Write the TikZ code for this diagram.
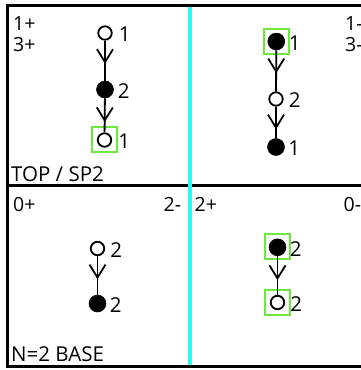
\documentclass[tikz,border=0pt]{standalone}
\usepackage{fontspec}
\setmainfont{Open Sans}
\usetikzlibrary{arrows.meta,decorations.markings}
\definecolor{gbox}{RGB}{110,232,60}
\definecolor{cyanline}{RGB}{40,250,250}
\tikzset{
  opn/.style={circle, draw=black, line width=1.8pt, fill=white, minimum size=13.5pt, inner sep=0pt},
  fil/.style={circle, fill=black, draw=black, line width=0.5pt, minimum size=17pt, inner sep=0pt},
  hl/.style={draw=gbox, line width=2pt, minimum size=25pt, inner sep=0pt},
  lab/.style={font=\fontsize{20.5}{20.5}\selectfont, inner sep=0pt},
  corner/.style={font=\fontsize{19.5}{19.5}\selectfont, inner sep=0pt, anchor=base west},
  panel/.style={font=\fontsize{20.5}{20.5}\selectfont, inner sep=0pt, anchor=base west},
  frame/.style={line width=3pt, black},
  edge/.style={line width=1.8pt, postaction={decorate, decoration={markings,
     mark=at position #1 with {\arrow{Straight Barb[length=13pt,width=16pt,line width=1.8pt]}}}}}
}
\begin{document}
\begin{tikzpicture}[x=1pt,y=-1pt]
\useasboundingbox (0,0) rectangle (361,370);
% frame
\draw[frame] (7,5.5) -- (361,5.5);
\draw[frame] (7,185) -- (361,185);
\draw[frame] (7,366.5) -- (361,366.5);
\draw[frame] (7.5,4) -- (7.5,368);
\draw[line width=4pt, cyanline] (190,7) -- (190,365);
% corner texts
\node[corner] (tl1) at (13,30) {1+};
\node[corner] (tl2) at (13,51) {3+};
\node[corner] (tr1) at (345,30) {1-};
\node[corner] (tr2) at (345,51) {3-};
\node[corner] (bl1) at (13,211) {0+};
\node[corner] (bl2) at (163.5,211) {2-};
\node[corner] (br1) at (194.5,211) {2+};
\node[corner] (br2) at (343.5,211) {0-};
\node[panel] (p1) at (11,181.5) {TOP / SP2};
\node[panel] (p2) at (11,361.5) {N=2 BASE};
% highlight boxes
\node[hl] (g1) at (104.5,139.5) {};
\node[hl] (g2) at (276,41) {};
\node[hl] (g3) at (277.3,246.7) {};
\node[hl] (g4) at (277.3,302.3) {};
% top-left
\node[opn, label={[lab, label distance=6pt, yshift=-1.5pt]east:1}] (a1) at (105,33) {};
\node[fil, label={[lab, label distance=4pt, yshift=-1.5pt]east:2}] (a2) at (105,89.5) {};
\node[opn, label={[lab, label distance=6pt, yshift=-1.5pt]east:1}] (a3) at (104.5,140) {};
\draw[edge=0.58] (a1) -- (a2);
\draw[edge=0.7] (a2) -- (a3);
% top-right
\node[fil, label={[lab, label distance=3.5pt, yshift=-1.5pt]east:1}] (b1) at (276.3,41.5) {};
\node[opn, label={[lab, label distance=5pt, yshift=-1.5pt]east:2}] (b2) at (276,99) {};
\node[fil, label={[lab, label distance=3.5pt, yshift=-1.5pt]east:1}] (b3) at (276,147) {};
\draw[edge=0.56] (b1) -- (b2);
\draw[edge=0.72] (b2) -- (b3);
% bottom-left
\node[opn, label={[lab, label distance=5pt, yshift=-1.5pt]east:2}] (c1) at (97.5,248.5) {};
\node[fil, label={[lab, label distance=3.5pt, yshift=-1.5pt]east:2}] (c2) at (97.5,303.5) {};
\draw[edge=0.6] (c1) -- (c2);
% bottom-right
\node[fil, label={[lab, label distance=3.5pt, yshift=-1.5pt]east:2}] (d1) at (277.5,247.3) {};
\node[opn, label={[lab, label distance=5pt, yshift=-1.5pt]east:2}] (d2) at (277.5,302.5) {};
\draw[edge=0.62] (d1) -- (d2);
\end{tikzpicture}
\end{document}
